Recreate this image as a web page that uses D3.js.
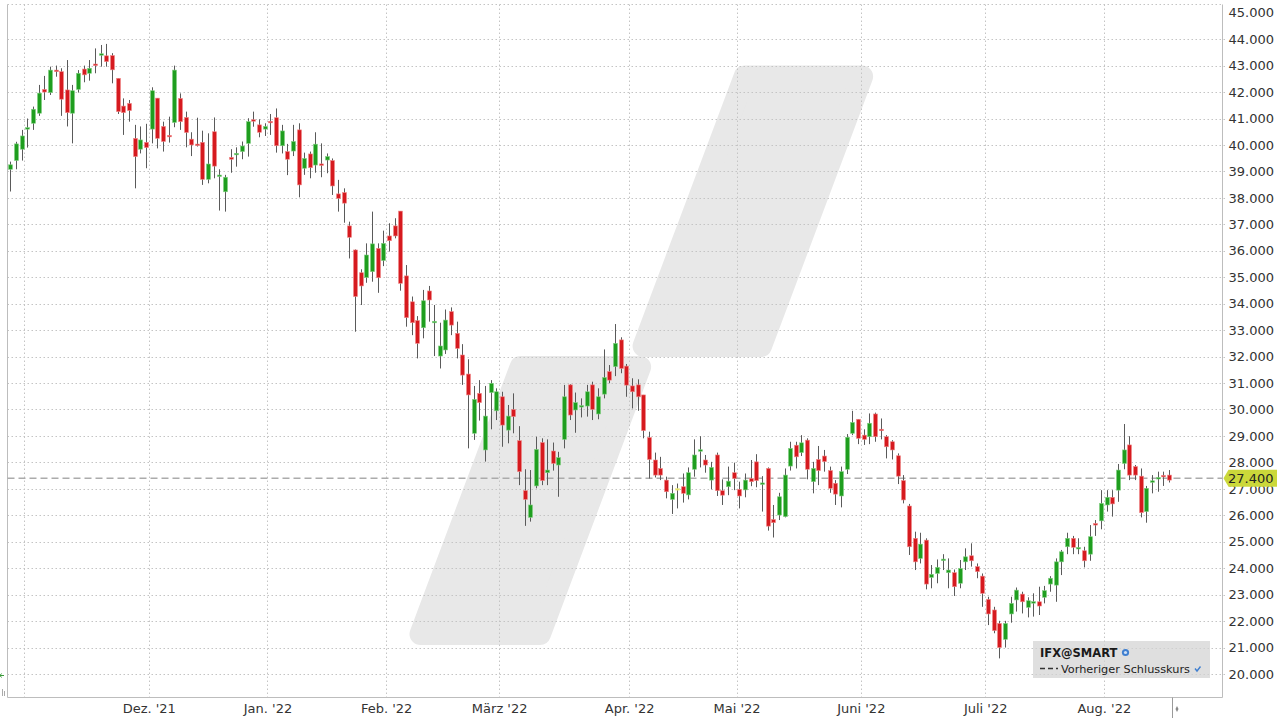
<!DOCTYPE html>
<html><head><meta charset="utf-8">
<script src="https://cdn.jsdelivr.net/npm/d3@7"></script>
<style>html,body{margin:0;padding:0;background:#fff;} svg{display:block;}</style>
</head><body>
<svg id="chart" width="1280" height="720"></svg>
<script>
// ---- data ----
const startDate = "2021-10-27";
const endDate = "2022-08-16";
const holidays = ["2021-12-24","2021-12-31","2022-04-15","2022-04-18"];

const open = [39.08,39.41,39.84,40.60,40.82,41.20,42.10,41.98,42.83,42.77,
42.08,41.20,42.10,42.87,42.71,43.06,43.40,43.37,43.38,42.52,
41.47,41.57,40.25,39.84,40.10,40.60,41.77,40.70,40.36,40.85,
41.76,41.04,40.22,40.03,40.10,38.70,40.50,38.82,38.23,39.53,
39.63,39.75,40.06,40.95,40.76,40.60,40.88,41.03,39.97,39.75,
39.77,40.57,39.12,39.66,39.24,39.28,39.43,39.41,38.15,38.20,
36.94,36.03,35.17,34.99,35.21,36.09,35.63,36.56,36.94,37.50,
35.05,34.07,33.36,33.09,34.48,33.30,32.02,32.25,33.70,32.88,
32.06,31.34,29.10,30.61,28.47,30.64,29.95,30.48,29.22,30.00,
28.82,26.93,25.92,27.11,28.75,27.61,28.43,27.90,28.87,30.93,
29.98,30.11,30.13,30.93,29.83,30.58,31.43,31.62,32.63,31.64,
30.89,30.93,30.55,28.94,28.09,27.77,27.33,26.60,26.98,27.08,
26.77,27.74,28.43,28.09,27.33,28.28,26.93,27.08,27.61,26.98,
26.96,27.39,28.02,27.18,27.77,25.84,26.01,25.95,27.86,28.65,
28.37,28.84,27.27,28.11,28.24,27.69,27.21,26.73,27.74,29.10,
29.63,29.03,28.97,29.83,29.25,28.97,28.78,28.25,27.31,26.35,
25.13,24.37,25.06,23.65,23.80,24.30,23.83,23.83,23.43,24.24,
24.47,24.06,23.70,22.82,22.42,21.91,21.31,22.27,22.80,23.02,
22.52,22.69,22.73,22.90,23.40,23.36,24.24,24.81,25.13,24.74,
24.66,24.53,25.69,25.79,26.39,26.68,26.95,27.96,28.66,27.84,
27.48,26.14,27.26,27.38,27.50,27.52];
const high = [39.37,40.12,40.57,41.00,41.45,42.27,42.61,42.96,43.00,42.90,
43.21,42.27,42.83,43.00,43.21,43.65,43.78,43.82,43.47,42.52,
41.76,41.70,40.76,40.70,40.80,42.18,41.77,40.88,41.07,43.00,
41.95,41.26,40.48,41.03,40.54,40.44,41.04,39.08,38.87,39.84,
39.91,40.13,41.01,41.26,40.97,40.82,41.17,41.38,40.76,40.04,
40.76,40.82,39.71,39.75,40.48,40.06,39.68,39.49,38.68,38.36,
37.10,36.05,35.30,36.28,37.48,36.28,36.76,37.04,37.23,37.50,
35.46,34.27,33.53,34.52,34.67,33.95,33.28,33.78,33.86,33.32,
32.47,31.90,30.89,31.11,30.89,31.11,30.80,30.67,30.17,30.61,
29.37,27.74,27.71,28.97,28.91,28.87,28.75,28.40,30.93,30.96,
30.64,30.42,30.93,31.05,30.80,32.27,31.68,33.23,32.73,31.72,
31.18,31.14,30.55,29.16,28.37,28.21,27.46,27.14,27.20,27.58,
27.81,28.87,28.99,28.28,28.02,28.37,27.36,27.84,27.99,27.27,
27.58,28.09,28.31,27.48,27.81,26.39,26.85,27.77,28.78,28.78,
29.03,28.91,28.02,28.62,28.47,27.84,27.33,27.84,29.07,29.95,
29.63,29.25,29.85,29.88,29.66,29.03,28.84,28.34,27.52,26.43,
25.38,25.34,25.13,24.12,24.33,24.53,24.37,23.95,24.31,24.75,
24.94,24.18,23.80,22.92,22.54,22.01,22.01,22.92,23.27,23.11,
22.90,23.05,23.30,23.33,23.70,24.37,24.69,25.34,25.22,25.13,
24.81,25.63,25.82,26.95,26.95,26.95,27.94,29.45,28.99,27.90,
27.77,27.11,27.52,27.65,27.65,27.71];
const low = [38.24,39.08,39.41,39.90,40.57,41.10,41.70,41.89,42.58,41.10,
40.70,40.06,41.98,42.37,42.43,42.71,42.96,42.96,42.33,41.17,
40.38,40.88,38.36,39.68,39.12,40.06,39.87,39.75,40.09,40.67,
40.57,39.91,39.58,39.94,38.49,38.55,38.74,37.52,37.48,38.95,
39.18,39.46,39.56,40.69,40.29,40.34,40.38,39.71,39.68,38.86,
39.58,38.02,38.87,38.74,38.95,38.78,38.93,38.11,37.48,37.06,
35.71,32.94,33.95,34.79,34.83,34.41,35.42,35.97,36.47,34.49,
33.13,32.81,31.93,32.69,33.32,32.02,31.55,32.10,32.81,31.93,
30.93,28.53,28.85,29.58,28.03,29.25,29.60,28.59,28.72,29.10,
27.14,25.60,25.76,27.02,27.14,27.14,27.69,26.70,28.53,29.60,
29.12,29.70,29.73,29.60,29.63,30.42,30.99,31.26,31.37,30.48,
30.04,29.95,28.91,27.39,27.43,27.33,26.64,26.05,26.26,26.48,
26.60,27.46,27.81,27.61,26.98,26.73,26.39,26.76,26.95,26.26,
26.68,27.10,27.06,26.14,25.42,25.16,25.82,25.92,27.69,27.77,
28.24,27.36,26.83,27.14,27.65,26.85,26.39,26.30,27.56,29.03,
28.69,28.66,28.69,28.78,28.87,28.15,28.11,27.18,26.45,24.50,
23.93,24.18,23.20,23.24,23.43,23.93,23.24,22.95,23.24,23.93,
24.06,23.62,22.54,21.85,21.54,20.59,21.00,21.94,22.36,22.29,
22.14,22.17,22.23,22.67,23.11,22.73,23.74,24.53,24.53,24.53,
24.03,24.28,25.22,25.47,26.14,25.95,26.51,27.74,27.33,27.33,
25.92,25.72,26.83,26.89,27.11,27.24];
const close = [39.25,40.04,40.34,40.65,41.35,41.96,42.00,42.83,42.77,41.73,
41.22,42.05,42.71,42.65,42.90,43.00,43.44,43.15,42.84,41.26,
41.22,41.30,39.56,40.19,39.90,42.05,40.25,40.13,40.31,42.83,
40.88,40.47,40.00,39.98,38.70,39.28,39.20,38.85,38.78,39.46,
39.68,39.96,40.88,40.90,40.48,40.70,40.85,39.97,40.53,39.46,
40.13,38.49,39.49,39.14,40.03,39.23,39.56,38.45,37.98,37.80,
36.51,34.27,34.67,35.84,36.26,34.98,36.28,36.38,36.56,34.77,
33.47,33.28,32.50,34.11,34.14,33.31,32.40,33.38,33.19,32.31,
31.30,30.55,30.38,30.26,29.75,30.99,30.67,29.41,29.75,29.73,
27.65,26.60,26.39,28.49,27.31,27.71,27.96,28.18,30.48,29.79,
30.26,30.13,30.67,30.00,30.48,31.21,31.11,32.50,31.55,30.92,
30.67,30.48,29.20,28.11,27.52,27.52,26.89,26.83,26.98,26.83,
27.61,28.28,28.47,27.90,27.81,26.93,26.76,27.29,27.39,26.73,
27.33,27.27,27.31,27.21,25.59,25.72,26.70,27.52,28.53,28.21,
28.74,27.74,27.77,27.69,28.03,27.02,26.80,27.65,28.95,29.51,
28.91,28.87,29.48,28.97,29.20,28.59,28.47,27.48,26.58,24.81,
24.24,24.91,23.40,23.77,24.03,24.33,23.93,23.30,23.99,24.43,
24.28,23.87,23.05,22.27,21.64,21.00,21.91,22.67,23.17,22.73,
22.77,22.72,22.57,23.15,23.62,24.24,24.62,25.13,24.79,24.77,
24.28,25.19,25.63,26.45,26.68,26.43,27.71,28.47,27.52,27.52,
26.10,27.02,27.29,27.42,27.46,27.33];

const yTicks = [20,21,22,23,24,25,26,27,28,29,30,31,32,33,34,35,36,37,38,39,40,41,42,43,44,45];
const monthKeys   = ["2021-11","2021-12","2022-01","2022-02","2022-03","2022-04","2022-05","2022-06","2022-07","2022-08"];
const monthLabels = ["",        "Dez. '21","Jan. '22","Feb. '22","März '22","Apr. '22","Mai '22","Juni '22","Juli '22","Aug. '22"];
const prevClose = 27.4;
const legendTitle = "IFX@SMART";
const legendItem = "Vorheriger Schlusskurs";
const emptySlotsRight = 9;

// ---- trading-day calendar (categories) ----
const dates = [];
{
  const hol = new Set(holidays);
  let d = new Date(startDate + "T00:00:00Z");
  const end = new Date(endDate + "T00:00:00Z");
  while (d <= end) {
    const wd = d.getUTCDay();
    const key = d.toISOString().slice(0,10);
    if (wd !== 0 && wd !== 6 && !hol.has(key)) dates.push(key);
    d = new Date(d.getTime() + 86400000);
  }
}
const data = dates.map((dt,i) => ({date: dt, o: open[i], h: high[i], l: low[i], c: close[i], i}));

// ---- layout ----
const L = 7.5, R = 1222.5, T = 4.5, B = 697.5;
const svg = d3.select("#chart");
const font = "'DejaVu Sans', Verdana, sans-serif";

const x = d3.scaleLinear().domain([0, dates.length + emptySlotsRight]).range([L, R]);
const y = d3.scaleLinear().domain([20, 45]).range([674.0, 12.7]);

svg.append("rect").attr("width",1280).attr("height",720).attr("fill","#fff");

// watermark
function para(topY, botY, tlx, w, slope, r) {
  const k = r * Math.sqrt(1 + slope*slope);
  const y1 = topY + r, y2 = botY - r;
  const lx = yy => tlx - slope*(yy - topY);
  return [[lx(y1)+k, y1],[lx(y1)+w-k, y1],[lx(y2)+w-k, y2],[lx(y2)+k, y2]];
}
const wm = svg.append("g");
[para(65.5, 357, 737, 141, 0.375, 11), para(356, 645, 513, 143, 0.375, 11)].forEach(p => {
  wm.append("path").attr("d", d3.line()(p) + "Z")
    .attr("fill","#e8e8e8").attr("stroke","#e8e8e8").attr("stroke-width",22).attr("stroke-linejoin","round");
});

// grid
const grid = svg.append("g").attr("stroke","#c4c4c4").attr("stroke-width",1).attr("stroke-dasharray","1.5,2.5");
yTicks.filter(v => v < 45).forEach(v => {
  const yy = Math.round(y(v)) + 0.5;
  grid.append("line").attr("x1",L).attr("x2",R+4).attr("y1",yy).attr("y2",yy);
});
grid.append("line").attr("x1",L).attr("x2",R).attr("y1",T).attr("y2",T);
const monthStart = monthKeys.map(k => dates.findIndex(d => d.startsWith(k)));
monthStart.forEach(idx => {
  const xx = Math.round(x(idx)) + 0.5;
  grid.append("line").attr("x1",xx).attr("x2",xx).attr("y1",T).attr("y2",B);
});

// frame
const frame = svg.append("g").attr("stroke","#bdbdbd").attr("stroke-width",1);
frame.append("line").attr("x1",L).attr("x2",L).attr("y1",T).attr("y2",B);
frame.append("line").attr("x1",R).attr("x2",R).attr("y1",T).attr("y2",B);
frame.append("line").attr("x1",L).attr("x2",R).attr("y1",B).attr("y2",B);

// previous close line
svg.append("line").attr("x1",L).attr("x2",R).attr("y1",y(prevClose)).attr("y2",y(prevClose))
  .attr("stroke","#ababab").attr("stroke-width",1.6).attr("stroke-dasharray","7,4");

// candles
const cg = svg.append("g");
data.forEach(d => {
  const cx = Math.round(x(d.i + 0.5)) + 0.5;
  const up = d.c > d.o, flat = d.c === d.o;
  const fill = flat ? "#e3e15a" : (up ? "#1f9e1f" : "#d61a1f");
  const edge = flat ? "#eeee99" : (up ? "#83d083" : "#f08a8a");
  cg.append("line").attr("x1",cx).attr("x2",cx).attr("y1",y(d.h)).attr("y2",y(d.l))
    .attr("stroke","#5a5a5a").attr("stroke-width",1);
  const top = y(Math.max(d.o,d.c)), bot = y(Math.min(d.o,d.c));
  const h = Math.max(1.5, bot - top);
  cg.append("rect").attr("x",cx-2).attr("width",4).attr("y",(top+bot)/2 - h/2).attr("height",h)
    .attr("fill",fill).attr("stroke",edge).attr("stroke-width",0.6);
});

// y axis (right)
const yAxis = svg.append("g").attr("transform",`translate(${R},0)`)
  .call(d3.axisRight(y).tickValues(yTicks).tickFormat(d3.format(".3f")).tickSize(0).tickPadding(6));
yAxis.select(".domain").remove();
yAxis.selectAll("text").attr("font-family",font).attr("font-size",13).attr("fill","#333");

// x axis
const xAxis = svg.append("g").attr("transform",`translate(0,${B})`)
  .call(d3.axisBottom(x).tickValues(monthStart).tickFormat((d,i) => monthLabels[i]).tickSize(0).tickPadding(6));
xAxis.select(".domain").remove();
xAxis.selectAll("text").attr("font-family",font).attr("font-size",13).attr("fill","#333");

// previous close tag
{
  const yy = y(prevClose);
  svg.append("path").attr("d",`M${R+1},${yy} L${R+6},${yy-8.5} L1277,${yy-8.5} L1277,${yy+8.5} L${R+6},${yy+8.5} Z`)
    .attr("fill","#cbd83a");
  svg.append("text").attr("x",R+5.5).attr("y",yy).attr("dy","0.36em").text(d3.format(".3f")(prevClose))
    .attr("font-family",font).attr("font-size",13).attr("fill","#222");
}

// current-position marker on x axis
svg.append("line").attr("x1",1172.5).attr("x2",1172.5).attr("y1",B).attr("y2",718).attr("stroke","#9a9a9a");
svg.append("path").attr("d","M1177,706 L1178.5,709 L1177,712 L1175.5,709 Z").attr("fill","#888");

// left edge markers
svg.append("path").attr("d","M0,675.5 L4,675.5 M1.5,673.5 L0,675.5 L1.5,677.5").attr("stroke","#3a9a3a").attr("fill","none");
svg.append("path").attr("d","M2.5,689 L2.5,696 M4.5,691 L4.5,696").attr("stroke","#aaa");

// legend
{
  const g = svg.append("g");
  g.append("rect").attr("x",1033).attr("y",641).attr("width",177).attr("height",37).attr("fill","#d3d3d3").attr("opacity",0.72);
  g.append("text").attr("x",1040).attr("y",656.5).text(legendTitle)
    .attr("font-family",font).attr("font-size",11.5).attr("font-weight","bold").attr("fill","#1a1a1a");
  g.append("circle").attr("cx",1125.5).attr("cy",652.5).attr("r",3.6).attr("fill","#3f7fd0");
  g.append("circle").attr("cx",1125.5).attr("cy",652.5).attr("r",1.6).attr("fill","#cfe0f5");
  g.append("line").attr("x1",1040).attr("x2",1058).attr("y1",668.5).attr("y2",668.5)
    .attr("stroke","#333").attr("stroke-width",1.3).attr("stroke-dasharray","5,3");
  g.append("text").attr("x",1061).attr("y",672.5).text(legendItem)
    .attr("font-family",font).attr("font-size",11.3).attr("fill","#222");
  g.append("path").attr("d","M1195,668.5 L1197,671 L1200.5,666.5").attr("stroke","#3f7fd0").attr("stroke-width",1.4).attr("fill","none");
}
</script>
</body></html>
